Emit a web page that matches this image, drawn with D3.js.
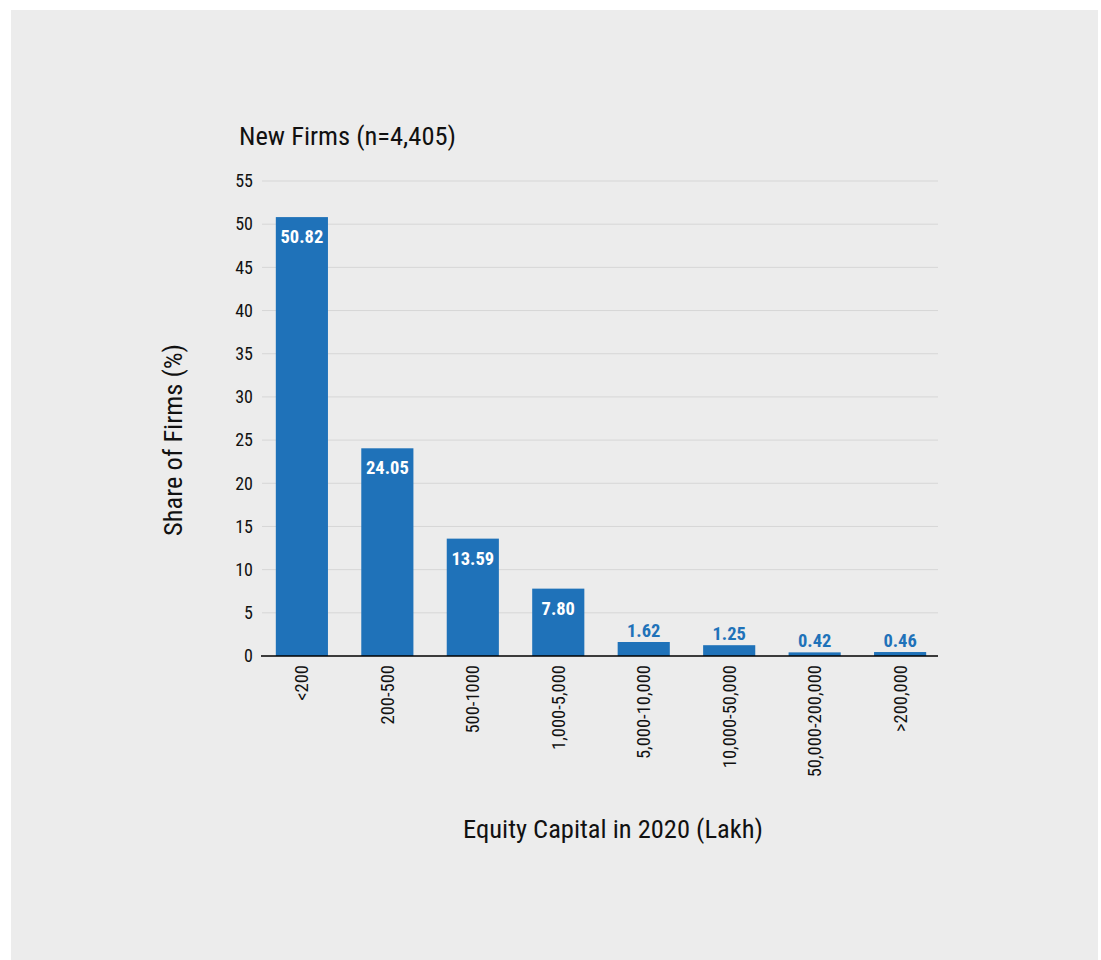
<!DOCTYPE html>
<html><head><meta charset="utf-8">
<script src="https://cdn.jsdelivr.net/npm/d3@7"></script>
<style>
html,body{margin:0;padding:0;background:#fff;}
svg{display:block;}
text{font-family:"Roboto Condensed","Roboto",sans-serif;}
</style></head><body>
<div id="chart"></div>
<script>
const categories = ["<200","200-500","500-1000","1,000-5,000","5,000-10,000","10,000-50,000","50,000-200,000",">200,000"];
const values = [50.82,24.05,13.59,7.80,1.62,1.25,0.42,0.46];
const valueLabels = ["50.82","24.05","13.59","7.80","1.62","1.25","0.42","0.46"];
const yTicks = [0,5,10,15,20,25,30,35,40,45,50,55];
const title = "New Firms (n=4,405)";
const yTitle = "Share of Firms (%)";
const xTitle = "Equity Capital in 2020 (Lakh)";

const W = 1101, H = 960;
const FONT = '"Roboto Condensed","Roboto",sans-serif';
const svg = d3.select("#chart").append("svg").attr("width", W).attr("height", H);
svg.append("rect").attr("x", 11).attr("y", 10).attr("width", 1087).attr("height", 950).attr("fill", "#ececec");

const x = d3.scaleBand().domain(categories).range([263, 939]).paddingInner(0.39).paddingOuter(0.15);
const y = d3.scaleLinear().domain([0, 55]).range([656, 181]);

// gridlines
svg.append("g").selectAll("line").data(yTicks.filter(d => d > 0)).join("line")
  .attr("x1", 262).attr("x2", 938)
  .attr("y1", d => y(d)).attr("y2", d => y(d))
  .attr("stroke", "#d6d6d6").attr("stroke-width", 1);

// y axis labels
const yAxis = d3.axisLeft(y).tickValues(yTicks).tickSize(0).tickPadding(9);
const gy = svg.append("g").attr("transform", "translate(262,0)").call(yAxis);
gy.select(".domain").remove();
gy.selectAll("text").attr("font-size", 18).attr("fill", "#111").attr("font-family", FONT);

// bars
const bar = "#1f72b9";
svg.append("g").selectAll("rect").data(values).join("rect")
  .attr("x", (d, i) => x(categories[i]))
  .attr("width", x.bandwidth())
  .attr("y", d => y(d))
  .attr("height", d => y(0) - y(d))
  .attr("fill", bar);

// value labels
svg.append("g").selectAll("text").data(values).join("text")
  .attr("x", (d, i) => x(categories[i]) + x.bandwidth() / 2)
  .attr("y", d => d >= 5 ? y(d) + 26 : y(d) - 5)
  .attr("text-anchor", "middle")
  .attr("font-size", 18.5).attr("font-weight", "bold")
  .attr("fill", d => d >= 5 ? "#fff" : bar)
  .text((d, i) => valueLabels[i]);

// x axis
const xAxis = d3.axisBottom(x).tickSize(0).tickPadding(0);
const gx = svg.append("g").attr("transform", "translate(0,656)").call(xAxis);
gx.select(".domain").attr("stroke", "#000").attr("stroke-width", 1.5).attr("d", "M-1,0H676").attr("transform", "translate(262,0)");
gx.selectAll("text")
  .attr("font-size", 18.5).attr("fill", "#111").attr("font-family", FONT)
  .attr("transform", "rotate(-90)")
  .attr("text-anchor", "end")
  .attr("x", -9).attr("y", 0).attr("dy", "0.35em");

// titles
svg.append("text").attr("x", 239).attr("y", 145).attr("font-size", 26.5).attr("fill", "#111").text(title);
svg.append("text").attr("transform", "translate(182,440) rotate(-90)").attr("text-anchor", "middle")
  .attr("font-size", 26.5).attr("fill", "#111").text(yTitle);
svg.append("text").attr("x", 613).attr("y", 838).attr("text-anchor", "middle")
  .attr("font-size", 26.5).attr("fill", "#111").text(xTitle);
</script>
</body></html>
